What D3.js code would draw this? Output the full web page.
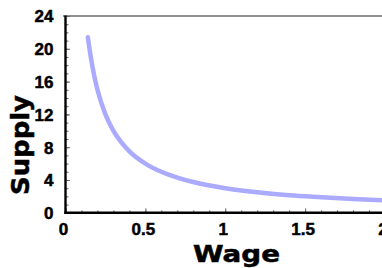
<!DOCTYPE html>
<html>
<head>
<meta charset="utf-8">
<script src="https://cdn.jsdelivr.net/npm/d3@7/dist/d3.min.js"></script>
<style>
html,body{margin:0;padding:0;background:#fff;overflow:hidden;}
svg{display:block;}
</style>
</head>
<body>
<script>
// Data
const wage   = [0.14, 0.16, 0.18, 0.20, 0.25, 0.30, 0.35, 0.40, 0.50, 0.60, 0.70, 0.80, 1.00, 1.20, 1.40, 1.60, 1.80, 2.00];
const supply = [21.4, 18.8, 16.7, 15.0, 12.0, 10.0, 8.6, 7.5, 6.0, 5.0, 4.3, 3.75, 3.0, 2.5, 2.15, 1.9, 1.67, 1.5];
const xTickValues = [0, 0.5, 1, 1.5, 2];
const xTickLabels = ["0", "0.5", "1", "1.5", "2"];
const yTickValues = [0, 4, 8, 12, 16, 20, 24];
const yTickLabels = ["0", "4", "8", "12", "16", "20", "24"];
const xMinor = d3.range(0, 21).map(i => i / 10);
const yMinor = d3.range(0, 25);
const xTitle = "Wage";
const yTitle = "Supply";

const W = 382, H = 268;
const svg = d3.select("body").append("svg").attr("width", W).attr("height", H);

const x = d3.scaleLinear().domain([0, 2]).range([65.5, 385]);
const y = d3.scaleLinear().domain([0, 24]).range([212.8, 16]);

// top frame line
svg.append("line").attr("x1", 63).attr("x2", W).attr("y1", 16).attr("y2", 16)
  .attr("stroke", "#222").attr("stroke-width", 1.2);

// minor ticks
svg.append("g").attr("transform", `translate(0,${y(0)})`)
  .call(d3.axisBottom(x).tickValues(xMinor).tickSize(-2.5).tickFormat(""))
  .call(g => g.select(".domain").remove())
  .call(g => g.selectAll("line").attr("stroke", "#666").attr("stroke-width", 1));
svg.append("g").attr("transform", `translate(${x(0)},0)`)
  .call(d3.axisLeft(y).tickValues(yMinor).tickSize(-3).tickFormat(""))
  .call(g => g.select(".domain").remove())
  .call(g => g.selectAll("line").attr("stroke", "#666").attr("stroke-width", 1));

const labelFont = g => g.attr("font-family", "Liberation Sans, Arial, sans-serif").attr("font-weight", "bold")
  .attr("font-size", 17).attr("fill", "#000").attr("stroke", "#000").attr("stroke-width", 0.5);

// major ticks + labels
const xi = {}; xTickValues.forEach((v, i) => xi[v] = xTickLabels[i]);
svg.append("g").attr("transform", `translate(0,${y(0)})`)
  .call(d3.axisBottom(x).tickValues(xTickValues).tickSize(-4.5).tickPadding(0).tickFormat(d => xi[d]))
  .call(g => g.select(".domain").remove())
  .call(g => g.selectAll("line").attr("stroke", "#666").attr("stroke-width", 1))
  .call(g => g.selectAll("text").attr("y", 21.8).attr("dy", 0).attr("dx", -2.5).call(labelFont));

const yi = {}; yTickValues.forEach((v, i) => yi[v] = yTickLabels[i]);
svg.append("g").attr("transform", `translate(${x(0)},0)`)
  .call(d3.axisLeft(y).tickValues(yTickValues).tickSize(-4.5).tickPadding(0).tickFormat(d => yi[d]))
  .call(g => g.select(".domain").remove())
  .call(g => g.selectAll("line").attr("stroke", "#666").attr("stroke-width", 1))
  .call(g => g.selectAll("text").attr("x", -12).attr("dy", "0.35em").call(labelFont));

// axis lines
svg.append("line").attr("x1", x(0)).attr("x2", x(0)).attr("y1", 15.5).attr("y2", y(0) + 1.2)
  .attr("stroke", "#000").attr("stroke-width", 2.4);
svg.append("line").attr("x1", x(0) - 1.2).attr("x2", W).attr("y1", y(0)).attr("y2", y(0))
  .attr("stroke", "#000").attr("stroke-width", 2.4);

// curve
const pts = wage.map((w, i) => [w, supply[i]]);
svg.append("path").datum(pts)
  .attr("fill", "none").attr("stroke", "#aaaaff").attr("stroke-width", 4.5)
  .attr("stroke-linecap", "round")
  .attr("d", d3.line().x(d => x(d[0])).y(d => y(d[1])).curve(d3.curveMonotoneX));

// titles
svg.append("text").text(xTitle)
  .attr("x", 236.5).attr("y", 261.5).attr("text-anchor", "middle")
  .attr("font-family", "DejaVu Sans, sans-serif").attr("font-weight", "bold")
  .attr("font-size", 23).attr("textLength", 87).attr("lengthAdjust", "spacingAndGlyphs")
  .attr("stroke", "#000").attr("stroke-width", 0.5);
svg.append("text").text(yTitle)
  .attr("transform", "translate(28.5,145) rotate(-90)").attr("text-anchor", "middle")
  .attr("font-family", "DejaVu Sans, sans-serif").attr("font-weight", "bold")
  .attr("font-size", 24).attr("textLength", 100).attr("lengthAdjust", "spacingAndGlyphs")
  .attr("stroke", "#000").attr("stroke-width", 0.5);
</script>
</body>
</html>
